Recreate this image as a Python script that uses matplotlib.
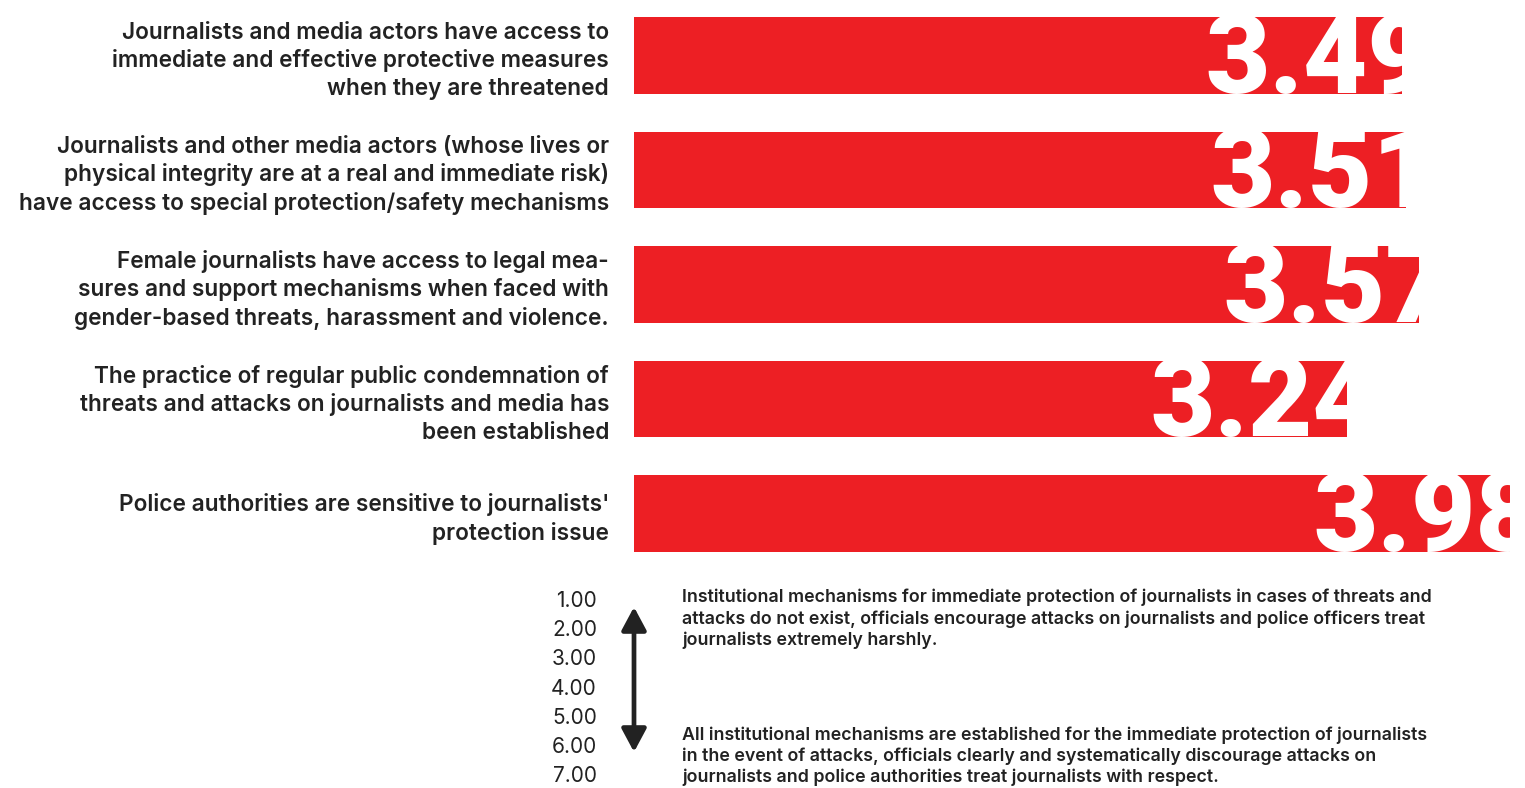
import matplotlib
matplotlib.use("Agg")
import matplotlib.pyplot as plt
import matplotlib.transforms as mtransforms
from matplotlib.patches import FancyArrowPatch

questions = [
    "Journalists and media actors have access to\nimmediate and effective protective measures\nwhen they are threatened",
    "Journalists and other media actors (whose lives or\nphysical integrity are at a real and immediate risk)\nhave access to special protection/safety mechanisms",
    "Female journalists have access to legal mea-\nsures and support mechanisms when faced with\ngender-based threats, harassment and violence.",
    "The practice of regular public condemnation of\nthreats and attacks on journalists and media has\nbeen established",
    "Police authorities are sensitive to journalists'\nprotection issue",
]
scores = [3.49, 3.51, 3.57, 3.24, 3.98]

scale_labels = ["1.00", "2.00", "3.00", "4.00", "5.00", "6.00", "7.00"]
note_top = ("Institutional mechanisms for immediate protection of journalists in cases of threats and\n"
            "attacks do not exist, officials encourage attacks on journalists and police officers treat\n"
            "journalists extremely harshly.")
note_bottom = ("All institutional mechanisms are established for the immediate protection of journalists\n"
               "in the event of attacks, officials clearly and systematically discourage attacks on\n"
               "journalists and police authorities treat journalists with respect.")

RED = "#ED1F24"
DARK = "#222222"
W, H = 1525, 788

fig = plt.figure(figsize=(W / 100, H / 100), dpi=100)
ax = fig.add_axes([634 / W, 1 - 570.75 / H, 880 / W, 572.5 / H])

ypos = list(range(len(scores)))
bars = ax.barh(ypos, scores, height=0.672, color=RED)
ax.set_xlim(0, 4.0)
ax.set_ylim(4.5, -0.5)
for s in ax.spines.values():
    s.set_visible(False)
ax.set_xticks([])
ax.set_yticks(ypos)
ax.set_yticklabels(questions, fontfamily="Inter", fontweight="semibold",
                   fontsize=16.3, color=DARK, linespacing=1.32, ha="right")
ax.tick_params(axis="y", length=0, pad=18)

# big white value labels, clipped to their bar
for b, v in zip(bars, scores):
    tr = mtransforms.offset_copy(ax.transData, fig, x=-196, y=1, units="dots")
    t = ax.text(v, b.get_y() + b.get_height(), f"{v:.2f}", transform=tr,
                ha="left", va="baseline", color="white", fontsize=80,
                fontfamily="Roboto", fontweight="black")
    t.set_clip_path(b)

# scale legend
for k, lab in enumerate(scale_labels):
    fig.text(597 / W, 1 - (601 + k * 29.2) / H, lab, ha="right", va="center",
             fontsize=15, fontfamily="Inter", color=DARK)

arrow = FancyArrowPatch((634 / W, 1 - 607 / H), (634 / W, 1 - 752 / H),
                        transform=fig.transFigure, arrowstyle="<|-|>,head_length=1.4,head_width=0.75",
                        mutation_scale=10, linewidth=3.4, color=DARK,
                        shrinkA=0, shrinkB=0)
fig.patches.append(arrow)

fig.text(682 / W, 1 - 589 / H, note_top, ha="left", va="top", fontsize=12.8,
         fontfamily="Inter", fontweight="semibold", color=DARK, linespacing=1.28)
fig.text(682 / W, 1 - 726 / H, note_bottom, ha="left", va="top", fontsize=12.8,
         fontfamily="Inter", fontweight="semibold", color=DARK, linespacing=1.28)

fig.savefig("out.png", dpi=100)
